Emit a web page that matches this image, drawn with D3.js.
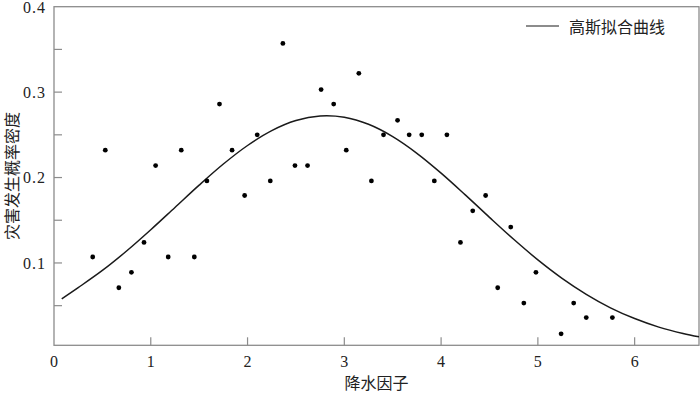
<!DOCTYPE html>
<html><head><meta charset="utf-8">
<script src="https://cdn.jsdelivr.net/npm/d3@7"></script>
<style>body{margin:0;background:#fff}svg{display:block}</style>
</head><body>
<svg id="c" width="700" height="394"></svg>
<script>
// Scatter points: 降水因子 (x) vs 灾害发生概率密度 (y)
const pointX = [0.40,0.53,0.67,0.80,0.93,1.05,1.18,1.315,1.45,1.58,1.71,1.84,1.97,2.10,2.235,2.365,2.49,2.62,2.76,2.89,3.02,3.15,3.28,3.405,3.55,3.67,3.80,3.93,4.06,4.20,4.327,4.46,4.585,4.72,4.855,4.98,5.24,5.37,5.50,5.77];
const pointY = [0.107,0.232,0.071,0.089,0.124,0.214,0.107,0.232,0.107,0.196,0.286,0.232,0.179,0.250,0.196,0.357,0.214,0.214,0.303,0.286,0.232,0.322,0.196,0.250,0.267,0.250,0.250,0.196,0.250,0.124,0.161,0.179,0.071,0.142,0.053,0.089,0.017,0.053,0.036,0.036];
// Gaussian fitted curve
const curveX = [0.08,0.25,0.5,0.75,1.0,1.25,1.5,1.75,2.0,2.25,2.5,2.75,3.0,3.25,3.5,3.75,4.0,4.25,4.5,4.75,5.0,5.25,5.5,5.75,6.0,6.25,6.5,6.665];
const curveY = [0.058,0.0711,0.0912,0.114,0.1389,0.165,0.1911,0.2158,0.2375,0.2549,0.2667,0.272,0.2705,0.2623,0.2479,0.2284,0.2052,0.1797,0.1534,0.1277,0.1036,0.082,0.0633,0.0475,0.0349,0.0249,0.0174,0.0135];
const xTicks = [1,2,3,4,5,6];
const xTickLabels = ["0","1","2","3","4","5","6"];
const yMajor = [0.1,0.2,0.3,0.4];
const yMinor = [0.05,0.1,0.15,0.2,0.25,0.3,0.35];
const yTickLabels = ["0.1","0.2","0.3","0.4"];
const legendLabel = "高斯拟合曲线";
const xTitle = "降水因子";
const yTitle = "灾害发生概率密度";

const svg = d3.select("#c");
const L = 54, R = 699, T = 6.7, B = 345.3;
const x = d3.scaleLinear().domain([0, 6.665]).range([L, R]);
const y = d3.scaleLinear().domain([0.0036, 0.4]).range([B, T]);
const axisColor = "#8c8c8c";
const serif = "'Liberation Serif','Times New Roman','DejaVu Serif',serif";
const cjk = "'Noto Sans CJK SC','Noto Sans CJK JP',sans-serif";

// frame
svg.append("rect").attr("x", L).attr("y", T).attr("width", R - L).attr("height", B - T)
  .attr("fill", "none").attr("stroke", axisColor).attr("stroke-width", 1.3);

// ticks (inward)
svg.append("g").selectAll("line").data(yMinor).join("line")
  .attr("x1", L).attr("x2", L + 8).attr("y1", d => y(d)).attr("y2", d => y(d))
  .attr("stroke", axisColor).attr("stroke-width", 1.2);
svg.append("g").selectAll("line").data(xTicks).join("line")
  .attr("x1", d => x(d)).attr("x2", d => x(d)).attr("y1", B).attr("y2", B - 8)
  .attr("stroke", axisColor).attr("stroke-width", 1.2);

// tick labels
svg.append("g").selectAll("text").data(yMajor).join("text")
  .attr("x", 46).attr("y", d => Math.max(y(d), 7.5)).attr("dy", "0.35em")
  .attr("text-anchor", "end").attr("font-family", serif).attr("font-size", 16)
  .attr("letter-spacing", "1px").attr("fill", "#222")
  .text((d, i) => yTickLabels[i]);
svg.append("g").selectAll("text").data(xTickLabels).join("text")
  .attr("x", (d, i) => x(i)).attr("y", 367)
  .attr("text-anchor", "middle").attr("font-family", serif).attr("font-size", 16)
  .attr("fill", "#222").text(d => d);

// titles
svg.append("text").attr("x", (L + R) / 2).attr("y", 383).attr("dy", "0.35em")
  .attr("text-anchor", "middle").attr("font-family", cjk).attr("font-size", 16)
  .attr("fill", "#222").text(xTitle);
svg.append("text").attr("transform", `translate(12,${(T + B) / 2}) rotate(-90)`)
  .attr("dy", "0.35em").attr("text-anchor", "middle").attr("font-family", cjk)
  .attr("font-size", 16).attr("fill", "#222").text(yTitle);

// curve
const line = d3.line().x(d => x(d[0])).y(d => y(d[1])).curve(d3.curveCatmullRom.alpha(0.5));
svg.append("path").datum(d3.zip(curveX, curveY)).attr("d", line)
  .attr("fill", "none").attr("stroke", "#1a1a1a").attr("stroke-width", 1.5);

// points
svg.append("g").selectAll("circle").data(d3.zip(pointX, pointY)).join("circle")
  .attr("cx", d => x(d[0])).attr("cy", d => y(d[1])).attr("r", 2.4).attr("fill", "#000");

// legend
svg.append("line").attr("x1", 526).attr("x2", 559).attr("y1", 26).attr("y2", 26)
  .attr("stroke", "#1a1a1a").attr("stroke-width", 1.2);
svg.append("text").attr("x", 569).attr("y", 27).attr("dy", "0.35em")
  .attr("font-family", cjk).attr("font-size", 16).attr("fill", "#222").text(legendLabel);
</script>
</body></html>
